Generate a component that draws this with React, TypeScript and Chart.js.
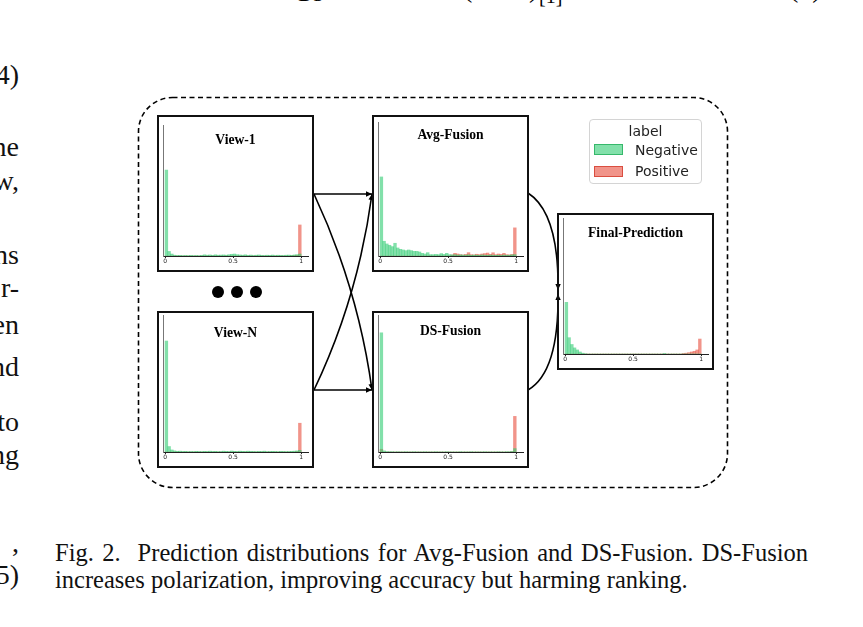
import React, { useEffect, useRef } from "react";
import { Chart, registerables } from "chart.js";

Chart.register(...registerables);

// ---------- data ----------
const BIN_CENTERS = [
  0.01, 0.03, 0.05, 0.07, 0.09, 0.11, 0.13, 0.15, 0.17, 0.19,
  0.21, 0.23, 0.25, 0.27, 0.29, 0.31, 0.33, 0.35, 0.37, 0.39,
  0.41, 0.43, 0.45, 0.47, 0.49, 0.51, 0.53, 0.55, 0.57, 0.59,
  0.61, 0.63, 0.65, 0.67, 0.69, 0.71, 0.73, 0.75, 0.77, 0.79,
  0.81, 0.83, 0.85, 0.87, 0.89, 0.91, 0.93, 0.95, 0.97, 0.99,
];
const X_TICKS = [0, 0.5, 1];
const X_TICK_LABELS = ["0", "0.5", "1"];
const LEGEND_TITLE = "label";
const LEGEND_LABELS = ["Negative", "Positive"];

// heights in % of each panel's plot height
const VIEW1_NEG = [
  65.6, 3.5, 1.5, 0.6, 0.4, 0.5, 0.3, 0.4, 0.3, 0.5,
  0.3, 0.4, 0.3, 0.5, 0.9, 0.6, 0.8, 0.5, 0.9, 0.6,
  0.7, 0.8, 0.6, 1.0, 1.3, 1.5, 1.0, 0.8, 0.6, 0.9,
  0.5, 0.7, 0.4, 0.6, 0.8, 0.5, 0.4, 0.6, 0.5, 0.7,
  0.4, 0.6, 0.5, 0.4, 0.6, 0.7, 0.5, 0.8, 1.0, 1.5,
];
const VIEW1_POS = [
  0, 0, 0, 0, 0, 0, 0, 0, 0, 0,
  0, 0, 0, 0, 0, 0, 0, 0, 0, 0,
  0, 0, 0, 0, 0, 0, 0, 0, 0, 0,
  0, 0, 0, 0, 0, 0, 0, 0, 0, 0,
  0, 0, 0, 0, 0, 0, 0.2, 0.3, 0.6, 23.7,
];
const AVG_NEG = [
  59, 11, 9, 8, 7, 9.5, 6, 5, 4.5, 4,
  4.5, 4, 3.5, 3.5, 3, 2, 1.5, 2.5, 1, 1,
  1.2, 1, 1.8, 1.2, 2, 1, 0.8, 1, 0.6, 0.8,
  0.7, 0.6, 0.9, 0.5, 0.7, 0.6, 0.5, 0.8, 0.6, 0.5,
  0.7, 0.6, 0.5, 0.6, 0.4, 0.7, 0.5, 0.6, 0.8, 1.0,
];
const AVG_POS = [
  0, 0, 0, 0, 0, 0, 0, 0, 0, 0,
  0, 0, 0, 0, 0, 0, 0, 0, 0, 0,
  0, 0, 0, 0, 0, 0, 0.8, 2.0, 1.5, 1.0,
  0.8, 1.2, 2.5, 1.0, 0.8, 1.3, 1.0, 1.5, 1.8, 2.2,
  1.2, 2.4, 1.0, 1.5, 1.2, 2.0, 1.0, 0.8, 1.2, 21,
];
const VIEWN_NEG = [
  81, 4, 1.5, 0.8, 0.5, 0.6, 0.4, 0.5, 0.3, 0.4,
  0.3, 0.5, 0.4, 0.3, 0.5, 0.4, 0.6, 0.4, 0.5, 0.3,
  0.4, 0.6, 0.5, 0.4, 0.7, 0.5, 0.4, 0.6, 0.5, 0.4,
  0.6, 0.5, 0.4, 0.3, 0.5, 0.4, 0.6, 0.3, 0.4, 0.5,
  0.4, 0.3, 0.5, 0.4, 0.3, 0.4, 0.5, 0.6, 0.8, 1.2,
];
const VIEWN_POS = [
  0, 0, 0, 0, 0, 0, 0, 0, 0, 0,
  0, 0, 0, 0, 0, 0, 0, 0, 0, 0,
  0, 0, 0, 0, 0, 0, 0, 0, 0, 0,
  0, 0, 0, 0, 0, 0, 0, 0, 0, 0,
  0, 0, 0, 0, 0, 0, 0, 0, 0.4, 21,
];
const DS_NEG = [
  87, 0.8, 0.3, 0.2, 0.2, 0.1, 0.2, 0.1, 0.1, 0.2,
  0.1, 0.1, 0.2, 0.1, 0.1, 0.1, 0.2, 0.1, 0.1, 0.1,
  0.2, 0.1, 0.1, 0.1, 0.2, 0.1, 0.1, 0.1, 0.1, 0.2,
  0.1, 0.1, 0.1, 0.2, 0.1, 0.1, 0.1, 0.1, 0.2, 0.1,
  0.1, 0.1, 0.1, 0.2, 0.1, 0.1, 0.2, 0.2, 0.4, 2.5,
];
const DS_POS = [
  2, 0, 0, 0, 0, 0, 0, 0, 0, 0,
  0, 0, 0, 0, 0, 0, 0, 0, 0, 0,
  0, 0, 0, 0, 0, 0, 0, 0, 0, 0,
  0, 0, 0, 0, 0, 0, 0, 0, 0, 0,
  0, 0, 0, 0, 0, 0, 0, 0, 0.3, 26,
];
const FINAL_NEG = [
  38, 12, 7, 4.5, 3, 1.5, 0.6, 0.2, 0, 0,
  0, 0, 0, 0, 0, 0, 0, 0, 0, 0,
  0, 0, 0, 0, 0, 0, 0, 0, 0, 0,
  0, 0, 0, 0, 0, 0, 0.4, 0, 0, 0,
  0, 0, 0, 0, 0, 0, 0, 0, 0, 0,
];
const FINAL_POS = [
  0, 0, 0, 0, 0, 0, 0, 0, 0, 0,
  0, 0, 0, 0, 0, 0, 0, 0, 0, 0,
  0, 0, 0, 0, 0, 0, 0, 0, 0, 0,
  0, 0, 0, 0, 0, 0, 0, 0, 0, 0,
  0, 0, 0, 0.4, 0.6, 1.0, 1.5, 2.0, 3.0, 11,
];

const CAPTION_1 = "Fig. 2.\u00a0 Prediction distributions for Avg-Fusion and DS-Fusion. DS-Fusion";
const CAPTION_2 = "increases polarization, improving accuracy but harming ranking.";

// ---------- styles ----------
const NEG_FILL = "rgba(46, 204, 113, 0.6)";
const POS_FILL = "rgba(231, 76, 60, 0.6)";
const NEG_EDGE = "rgba(46, 180, 100, 0.9)";
const POS_EDGE = "rgba(215, 70, 55, 0.9)";
const SERIF = '"Liberation Serif", "Times New Roman", "DejaVu Serif", serif';
const SANS = '"DejaVu Sans", "Liberation Sans", sans-serif';

type PanelProps = {
  title: string;
  neg: number[];
  pos: number[];
  left: number;
  top: number;
  padTop: number;
  titleY: number;
};

const BOX = 157;

function Panel(p: PanelProps) {
  const ref = useRef<HTMLCanvasElement>(null);
  useEffect(() => {
    if (!ref.current) return;
    const chart = new Chart(ref.current, {
      type: "bar",
      data: {
        datasets: [
          {
            label: LEGEND_LABELS[0],
            data: BIN_CENTERS.map((x, i) => ({ x, y: p.neg[i] })),
            backgroundColor: NEG_FILL,
            borderWidth: 0,
            grouped: false,
            barPercentage: 1,
            categoryPercentage: 1,
          } as any,
          {
            label: LEGEND_LABELS[1],
            data: BIN_CENTERS.map((x, i) => ({ x, y: p.pos[i] })),
            backgroundColor: POS_FILL,
            borderWidth: 0,
            grouped: false,
            barPercentage: 1,
            categoryPercentage: 1,
          } as any,
        ],
      },
      options: {
        animation: false,
        responsive: false,
        maintainAspectRatio: false,
        layout: { padding: { left: 6, right: 6, top: p.padTop, bottom: 2 } },
        plugins: {
          legend: { display: false },
          tooltip: { enabled: false },
          title: { display: false },
        },
        scales: {
          x: {
            type: "linear",
            min: -0.015,
            max: 1.05,
            offset: false,
            afterBuildTicks: (s: any) => {
              s.ticks = X_TICKS.map((v) => ({ value: v }));
            },
            afterFit: (s: any) => {
              s.height = 14;
            },
            ticks: {
              font: { size: 6, family: SANS },
              color: "#222",
              padding: 0,
              maxRotation: 0,
              autoSkip: false,
              callback: (_v: any, i: number) => X_TICK_LABELS[i],
            },
            grid: {
              display: true,
              drawOnChartArea: false,
              drawTicks: true,
              tickLength: 2,
              color: "#222",
              offset: false,
            },
            border: { display: true, color: "#222", width: 1 },
          },
          y: {
            min: 0,
            max: 100,
            ticks: { display: false },
            grid: { display: false, drawTicks: false },
            border: { display: true, color: "#777", width: 1 },
            afterFit: (s: any) => {
              s.width = 0;
            },
          },
        },
      } as any,
    });
    return () => chart.destroy();
  }, []);

  return (
    <>
      <canvas
        ref={ref}
        width={BOX}
        height={BOX}
        style={{ position: "absolute", left: p.left, top: p.top, width: BOX, height: BOX }}
      />
      <div
        style={{
          position: "absolute",
          left: p.left,
          top: p.top,
          width: BOX,
          height: BOX,
          border: "2px solid #111",
          boxSizing: "border-box",
          pointerEvents: "none",
        }}
      />
      <div
        style={{
          position: "absolute",
          left: p.left + 6,
          width: BOX - 12,
          top: p.titleY - 7,
          height: 14,
          lineHeight: "14px",
          textAlign: "center",
          fontFamily: SERIF,
          fontWeight: "bold",
          fontSize: 13.6,
          color: "#000",
          whiteSpace: "nowrap",
        }}
      >
        {p.title}
      </div>
    </>
  );
}

const MARGIN_TEXT: [string, number][] = [
  ["4)", 78],
  ["ne", 150],
  ["w,", 184],
  ["ns", 258],
  ["r-", 291],
  ["en", 328],
  ["nd", 370],
  ["to", 425],
  ["ng", 458],
  [",", 546],
  ["5)", 578],
];

export default function App() {
  useEffect(() => {
    document.body.style.margin = "0";
  }, []);

  return (
    <div
      style={{
        position: "absolute",
        left: 0,
        top: 0,
        width: 863,
        height: 627,
        overflow: "hidden",
        background: "#fff",
      }}
    >
      {/* page fragments at top */}
      <div style={{ position: "absolute", left: 299, top: -16, fontFamily: SERIF, fontStyle: "italic", fontSize: 20, lineHeight: "20px" }}>DS</div>
      <div style={{ position: "absolute", left: 463, top: -26, fontFamily: SERIF, fontSize: 28, lineHeight: "28px" }}>(</div>
      <div style={{ position: "absolute", left: 529, top: -26, fontFamily: SERIF, fontSize: 28, lineHeight: "28px" }}>)</div>
      <div style={{ position: "absolute", left: 539, top: -14, fontFamily: SERIF, fontSize: 20, lineHeight: "20px" }}>[1]</div>
      <div style={{ position: "absolute", left: 789, top: -26, fontFamily: SERIF, fontSize: 28, lineHeight: "28px" }}>(3)</div>

      {/* left column fragments */}
      {MARGIN_TEXT.map(([t, y], i) => (
        <div
          key={i}
          style={{
            position: "absolute",
            left: -200,
            width: 219,
            top: y - 17,
            textAlign: "right",
            fontFamily: SERIF,
            fontSize: 28,
            lineHeight: "28px",
            color: "#111",
            whiteSpace: "nowrap",
          }}
        >
          {t}
        </div>
      ))}

      {/* dashed frame, arrows, dots */}
      <svg
        width={863}
        height={627}
        style={{ position: "absolute", left: 0, top: 0, pointerEvents: "none" }}
      >
        <defs>
          <marker
            id="ah"
            viewBox="0 0 10 10"
            refX="10"
            refY="5"
            markerWidth="7"
            markerHeight="6"
            markerUnits="userSpaceOnUse"
            orient="auto"
          >
            <path d="M0,0.5 L10,5 L0,9.5 z" fill="#000" />
          </marker>
        </defs>
        <rect
          x={138.5}
          y={97.5}
          width={589}
          height={390}
          rx={34}
          ry={34}
          fill="none"
          stroke="#000"
          strokeWidth={1.6}
          strokeDasharray="5 3.5"
        />
        <path d="M314,194 L372,194" stroke="#000" strokeWidth={1.6} fill="none" markerEnd="url(#ah)" />
        <path d="M314,390 L372,390" stroke="#000" strokeWidth={1.6} fill="none" markerEnd="url(#ah)" />
        <path d="M314,194 Q358,288 372,390" stroke="#000" strokeWidth={1.6} fill="none" markerEnd="url(#ah)" />
        <path d="M314,390 Q358,298 372,194" stroke="#000" strokeWidth={1.6} fill="none" markerEnd="url(#ah)" />
        <path d="M528,193 Q559,213 558,290" stroke="#000" strokeWidth={1.6} fill="none" markerEnd="url(#ah)" />
        <path d="M528,390 Q559,372 558,294" stroke="#000" strokeWidth={1.6} fill="none" markerEnd="url(#ah)" />
        <circle cx={218} cy={292} r={6} fill="#000" />
        <circle cx={237} cy={292} r={6} fill="#000" />
        <circle cx={256} cy={292} r={6} fill="#000" />
      </svg>

      <Panel title="View-1" neg={VIEW1_NEG} pos={VIEW1_POS} left={157} top={115} padTop={10} titleY={140} />
      <Panel title="Avg-Fusion" neg={AVG_NEG} pos={AVG_POS} left={372} top={115} padTop={7} titleY={135} />
      <Panel title="View-N" neg={VIEWN_NEG} pos={VIEWN_POS} left={157} top={311} padTop={4} titleY={333} />
      <Panel title="DS-Fusion" neg={DS_NEG} pos={DS_POS} left={372} top={311} padTop={4} titleY={331} />
      <Panel title="Final-Prediction" neg={FINAL_NEG} pos={FINAL_POS} left={557} top={213} padTop={5} titleY={233} />

      {/* legend */}
      <div
        style={{
          position: "absolute",
          left: 589,
          top: 119,
          width: 113,
          height: 65,
          border: "1px solid #d4d4d4",
          borderRadius: 4,
          boxSizing: "border-box",
          background: "#fff",
          fontFamily: SANS,
          fontSize: 14,
          color: "#222",
        }}
      >
        <div style={{ position: "absolute", left: 0, width: 111, top: 3, lineHeight: "16px", textAlign: "center" }}>
          {LEGEND_TITLE}
        </div>
        <div style={{ position: "absolute", left: 4, top: 24, width: 29, height: 11, background: NEG_FILL, border: `1px solid ${NEG_EDGE}`, boxSizing: "border-box" }} />
        <div style={{ position: "absolute", left: 45, top: 22, lineHeight: "16px", whiteSpace: "nowrap" }}>{LEGEND_LABELS[0]}</div>
        <div style={{ position: "absolute", left: 4, top: 46, width: 29, height: 11, background: POS_FILL, border: `1px solid ${POS_EDGE}`, boxSizing: "border-box" }} />
        <div style={{ position: "absolute", left: 45, top: 43, lineHeight: "16px", whiteSpace: "nowrap" }}>{LEGEND_LABELS[1]}</div>
      </div>

      {/* caption */}
      <div
        style={{
          position: "absolute",
          left: 55,
          top: 539,
          width: 753,
          fontFamily: SERIF,
          fontSize: 24.5,
          lineHeight: "28px",
          textAlign: "justify",
          textAlignLast: "justify",
          color: "#111",
          whiteSpace: "nowrap",
        } as any}
      >
        {CAPTION_1}
      </div>
      <div
        style={{
          position: "absolute",
          left: 55,
          top: 566,
          fontFamily: SERIF,
          fontSize: 24.5,
          lineHeight: "28px",
          color: "#111",
          whiteSpace: "nowrap",
        }}
      >
        {CAPTION_2}
      </div>
    </div>
  );
}
